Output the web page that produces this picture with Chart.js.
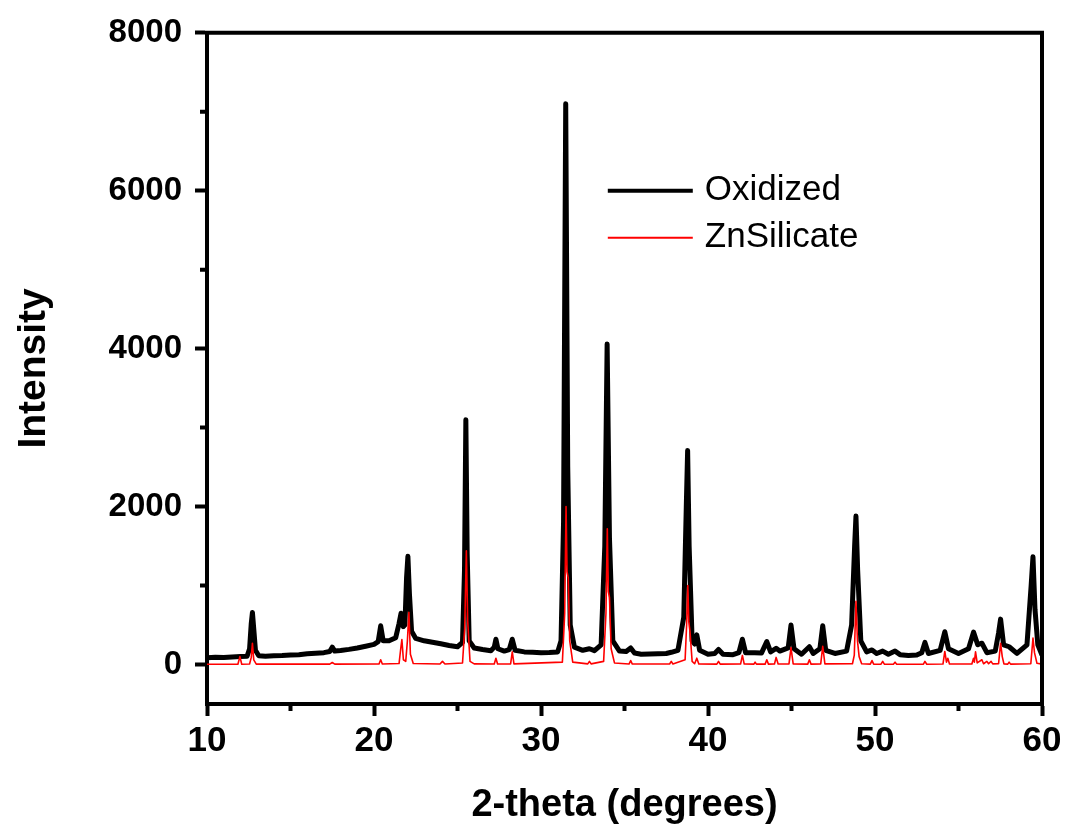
<!DOCTYPE html>
<html>
<head>
<meta charset="utf-8">
<script src="https://cdn.jsdelivr.net/npm/chart.js@4"></script>
<style>
  body { margin: 0; background: #fff; }
  canvas { display: block; }
</style>
</head>
<body>
<canvas id="xrd" width="1066" height="832"></canvas>
<script>
// 2-theta / intensity
const oxAngle = [
  10.0, 10.5, 11.0, 11.5, 12.0, 12.4, 12.55, 12.65, 12.72, 12.8, 12.9, 13.1, 13.5, 14.0, 14.5, 15.0, 15.5, 16.0,
  16.5, 17.0, 17.35, 17.5, 17.65, 18.0, 18.5, 19.0, 19.5, 20.0, 20.25, 20.4, 20.55, 20.9, 21.3, 21.5, 21.62, 21.75,
  21.85, 21.95, 22.03, 22.12, 22.25, 22.5, 23.0, 23.5, 24.0, 24.5, 25.0, 25.3, 25.42, 25.5, 25.58, 25.7, 26.0, 26.5,
  27.0, 27.2, 27.3, 27.42, 27.8, 28.1, 28.28, 28.45, 29.0, 29.5, 30.0, 30.5, 31.0, 31.2, 31.35, 31.48, 31.6, 31.75,
  32.0, 32.5, 32.9, 33.2, 33.6, 33.82, 33.96, 34.1, 34.3, 34.7, 35.1, 35.37, 35.6, 36.0, 36.5, 37.0, 37.5, 37.8,
  38.2, 38.55, 38.7, 38.78, 38.87, 39.05, 39.2, 39.33, 39.5, 40.0, 40.4, 40.63, 40.9, 41.5, 41.85, 42.06, 42.25, 42.8,
  43.2, 43.52, 43.75, 44.08, 44.3, 44.8, 44.97, 45.15, 45.6, 46.07, 46.3, 46.7, 46.87, 47.05, 47.6, 48.3, 48.6, 48.78,
  48.86, 48.96, 49.15, 49.5, 49.82, 50.1, 50.46, 50.8, 51.2, 51.5, 52.0, 52.5, 52.8, 52.99, 53.2, 53.9, 54.18, 54.4,
  55.0, 55.6, 55.9, 56.15, 56.4, 56.7, 57.2, 57.4, 57.52, 57.7, 58.03, 58.5, 59.1, 59.35, 59.46, 59.58, 59.75, 60.0
];
const oxIntensity = [
  85, 92, 88, 96, 100, 105, 200, 520, 660, 450, 180, 110, 105, 112, 115, 122, 125, 135,
  142, 150, 165, 220, 170, 178, 192, 210, 232, 255, 290, 490, 300, 300, 340, 520, 650, 480,
  500, 1100, 1370, 900, 420, 330, 300, 282, 262, 240, 225, 280, 1200, 3100, 1400, 300, 210, 190,
  175, 220, 320, 200, 170, 190, 320, 180, 160, 155, 150, 152, 160, 300, 1800, 7100, 2500, 500,
  220, 180, 200, 175, 250, 1500, 4060, 1600, 300, 170, 165, 210, 145, 130, 132, 135, 140, 155,
  180, 600, 2000, 2710, 1500, 300, 260, 375, 180, 130, 140, 190, 130, 125, 150, 320, 150, 150,
  145, 290, 160, 205, 170, 210, 500, 200, 130, 225, 140, 200, 490, 180, 140, 170, 500, 1500,
  1880, 1200, 300, 160, 185, 140, 170, 130, 170, 125, 115, 120, 150, 280, 140, 180, 415, 200,
  140, 200, 410, 250, 270, 150, 170, 400, 575, 250, 225, 140, 250, 1000, 1365, 700, 250, 120
];

const znAngle = [
  10.0, 11.85, 11.97, 12.08, 12.55, 12.65, 12.72, 12.8, 12.95, 17.35, 17.5, 17.65, 20.3, 20.4, 20.5, 21.5, 21.6,
  21.67, 21.76, 21.9, 22.0, 22.09, 22.18, 22.35, 23.95, 24.1, 24.25, 25.3, 25.43, 25.53, 25.61, 25.75, 26.0, 27.2,
  27.3, 27.4, 28.18, 28.28, 28.38, 31.28, 31.42, 31.5, 31.56, 31.63, 31.72, 31.9, 32.8, 32.9, 33.0, 33.75, 33.89,
  33.97, 34.03, 34.1, 34.2, 34.4, 35.27, 35.37, 35.47, 37.7, 37.8, 37.9, 38.63, 38.72, 38.79, 38.85, 38.92, 39.05,
  39.2, 39.33, 39.45, 40.53, 40.63, 40.73, 41.95, 42.06, 42.17, 42.75, 42.82, 42.9, 43.42, 43.52, 43.62, 43.98,
  44.08, 44.2, 44.85, 44.97, 45.1, 45.97, 46.07, 46.17, 46.75, 46.87, 47.0, 48.65, 48.76, 48.86, 48.95, 49.05,
  49.2, 49.72, 49.82, 49.92, 50.36, 50.46, 50.56, 51.1, 51.2, 51.3, 52.9, 52.99, 53.1, 54.07, 54.18, 54.28, 54.36,
  54.46, 55.8, 55.9, 55.95, 56.02, 56.12, 56.4, 56.5, 56.7, 56.8, 56.95, 57.05, 57.4, 57.52, 57.62, 57.72, 57.95,
  58.03, 58.12, 59.33, 59.46, 59.55, 59.7, 60.0
];
const znIntensity = [
  3, 4, 100, 4, 6, 90, 270, 60, 5, 5, 25, 5, 6, 60, 6, 12, 200,
  315, 60, 40, 300, 660, 130, 12, 6, 40, 6, 20, 450, 1440, 550, 40, 8, 6,
  80, 6, 8, 160, 8, 30, 650, 2000, 1175, 1100, 300, 30, 8, 40, 8, 40, 650,
  1720, 925, 850, 200, 20, 6, 50, 6, 6, 40, 6, 60, 500, 1000, 540, 420, 40,
  10, 80, 6, 5, 40, 5, 6, 115, 6, 5, 30, 5, 5, 60, 5, 6,
  90, 6, 8, 215, 8, 5, 60, 5, 8, 230, 8, 10, 120, 800, 300, 100,
  10, 5, 50, 5, 4, 40, 4, 4, 30, 4, 4, 40, 4, 6, 165, 30, 80,
  6, 6, 80, 30, 160, 20, 60, 10, 40, 10, 40, 8, 10, 270, 100, 8, 5,
  30, 5, 10, 335, 150, 15, 5
];

const xMajor = [10, 20, 30, 40, 50, 60];
const xMinor = [15, 25, 35, 45, 55];
const yMajor = [0, 2000, 4000, 6000, 8000];
const yMinor = [1000, 3000, 5000, 7000];

const toPoints = (xs, ys) => xs.map((x, i) => ({ x: x, y: ys[i] }));

// box on top/right, short minor ticks, legend inside the plot
const framePlugin = {
  id: 'frame',
  afterDraw(chart) {
    const { ctx, chartArea: a, scales } = chart;
    ctx.save();
    ctx.strokeStyle = '#000';
    ctx.lineWidth = 4;
    ctx.beginPath();
    ctx.moveTo(a.left - 2, a.top);
    ctx.lineTo(a.right, a.top);
    ctx.lineTo(a.right, a.bottom + 2);
    ctx.stroke();

    ctx.beginPath();
    xMinor.forEach(v => {
      const px = scales.x.getPixelForValue(v);
      ctx.moveTo(px, a.bottom);
      ctx.lineTo(px, a.bottom + 7);
    });
    yMinor.forEach(v => {
      const py = scales.y.getPixelForValue(v);
      ctx.moveTo(a.left, py);
      ctx.lineTo(a.left - 7, py);
    });
    ctx.stroke();

    // legend
    const lx = scales.x.getPixelForValue(34);
    let ly = scales.y.getPixelForValue(6000);
    ctx.font = '35px Arial, "Liberation Sans", sans-serif';
    ctx.textBaseline = 'middle';
    ctx.fillStyle = '#000';
    chart.data.datasets.forEach(ds => {
      ctx.strokeStyle = ds.borderColor;
      ctx.lineWidth = ds.legendWidth;
      ctx.beginPath();
      ctx.moveTo(lx, ly);
      ctx.lineTo(lx + 85, ly);
      ctx.stroke();
      ctx.fillText(ds.label, lx + 97, ly);
      ly += 47;
    });
    ctx.restore();
  }
};

new Chart(document.getElementById('xrd'), {
  type: 'line',
  data: {
    datasets: [
      {
        label: 'Oxidized',
        data: toPoints(oxAngle, oxIntensity),
        borderColor: '#000000',
        borderWidth: 5,
        legendWidth: 4,
        order: 2
      },
      {
        label: 'ZnSilicate',
        data: toPoints(znAngle, znIntensity),
        borderColor: '#ff0000',
        borderWidth: 1.6,
        legendWidth: 2,
        order: 1
      }
    ]
  },
  options: {
    responsive: false,
    animation: false,
    layout: { padding: { top: 31, right: 24, left: 0, bottom: 0 } },
    elements: {
      point: { radius: 0 },
      line: { tension: 0, borderJoinStyle: 'round', fill: false }
    },
    plugins: { legend: { display: false }, tooltip: { enabled: false } },
    scales: {
      x: {
        type: 'linear',
        min: 10,
        max: 60,
        afterBuildTicks: s => { s.ticks = xMajor.map(v => ({ value: v })); },
        afterFit: s => { s.height = 128; },
        border: { display: true, color: '#000', width: 4 },
        grid: { drawOnChartArea: false, tickLength: 12, tickWidth: 4, tickColor: '#000' },
        ticks: {
          color: '#000',
          padding: 4,
          maxRotation: 0,
          callback: v => String(v),
          font: { family: 'Arial, "Liberation Sans", sans-serif', size: 35, weight: 'bold' }
        },
        title: {
          display: true,
          text: '2-theta (degrees)',
          color: '#000',
          padding: { top: 0, bottom: 4 },
          font: { family: 'Arial, "Liberation Sans", sans-serif', size: 38, weight: 'bold' }
        }
      },
      y: {
        type: 'linear',
        min: -500,
        max: 8000,
        afterBuildTicks: s => { s.ticks = yMajor.map(v => ({ value: v })); },
        afterFit: s => { s.width = 207; },
        border: { display: true, color: '#000', width: 4 },
        grid: { drawOnChartArea: false, tickLength: 12, tickWidth: 4, tickColor: '#000' },
        ticks: {
          color: '#000',
          padding: 13,
          callback: v => String(v),
          font: { family: 'Arial, "Liberation Sans", sans-serif', size: 33, weight: 'bold' }
        },
        title: {
          display: true,
          text: 'Intensity',
          color: '#000',
          padding: { top: 11, bottom: 0 },
          font: { family: 'Arial, "Liberation Sans", sans-serif', size: 39, weight: 'bold' }
        }
      }
    }
  },
  plugins: [framePlugin]
});
</script>
</body>
</html>
